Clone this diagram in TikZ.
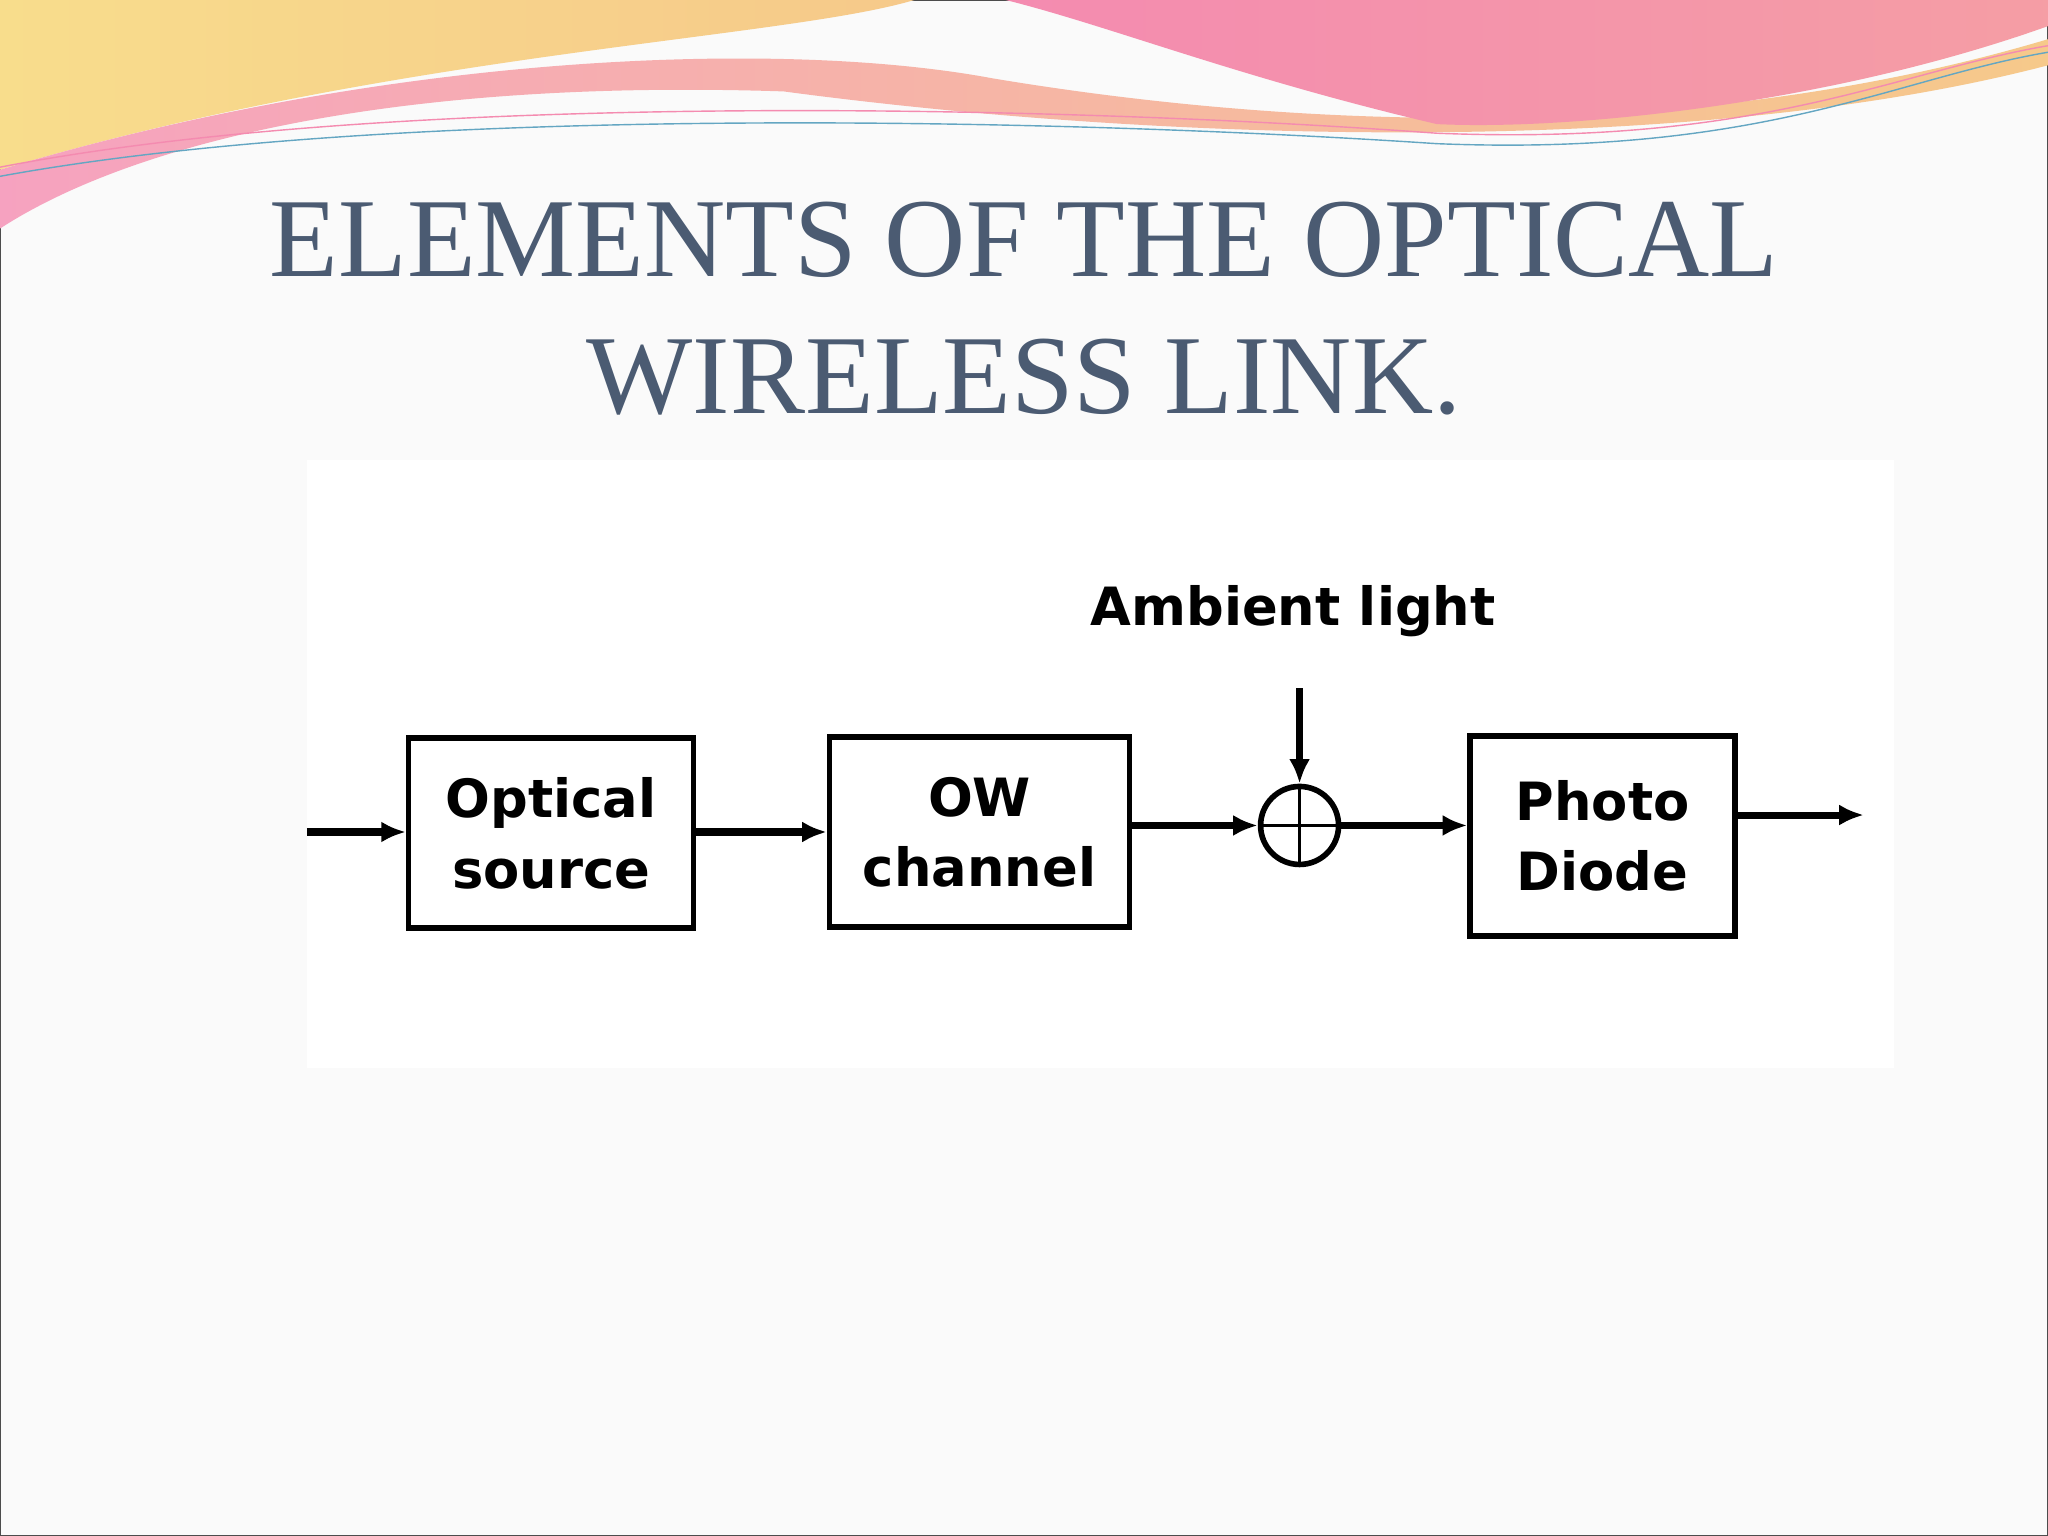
\documentclass[tikz,border=0pt]{standalone}
\usepackage{fontspec}
\setmainfont{Liberation Serif}
\setsansfont{DejaVu Sans}
\usetikzlibrary{positioning,arrows.meta,calc}
\definecolor{titlegray}{HTML}{4B5B72}
\definecolor{wavepink}{HTML}{F48BB0}
\definecolor{waveorange}{HTML}{F6C98A}
\definecolor{waveyellow}{HTML}{F8DD8C}
\tikzset{
  block/.style={draw, line width=1.6pt, minimum height=1.9cm, align=center,
    font=\sffamily\bfseries\fontsize{15}{20}\selectfont, inner sep=2pt},
  sig/.style={line width=2pt, -{Latex[length=7pt,width=6pt]}}
}
\begin{document}
\begin{tikzpicture}[x=0.013061cm,y=-0.013061cm]
  \useasboundingbox (0,0) rectangle (1568,1176);
  \fill[white!96!gray] (0,0) rectangle (1568,1176);
  \draw[gray!60!black, line width=0.8pt] (0,0) rectangle (1568,1176);
  % header waves
  \shade[left color=waveyellow, right color=waveorange]
    (0,0) -- (700,0) .. controls (600,30) and (300,40) .. (0,130) -- cycle;
  \shade[left color=wavepink!80, right color=waveorange]
    (0,130) .. controls (300,40) and (600,30) .. (760,60)
    .. controls (1000,100) and (1300,110) .. (1568,30) -- (1568,50)
    .. controls (1300,120) and (900,110) .. (600,70)
    .. controls (300,60) and (100,110) .. (0,175) -- cycle;
  \shade[left color=wavepink, right color=wavepink!70!waveorange]
    (770,0) -- (1568,0) -- (1568,20) .. controls (1400,80) and (1200,100) .. (1100,95)
    .. controls (950,60) and (850,20) .. (770,0) -- cycle;
  \draw[cyan!50!gray, thin] (0,135) .. controls (300,80) and (800,90) .. (1100,110)
    .. controls (1350,120) and (1450,60) .. (1568,40);
  \draw[wavepink, thin] (0,128) .. controls (300,70) and (800,80) .. (1100,102)
    .. controls (1350,112) and (1450,55) .. (1568,35);
  % title
  \node[text=titlegray, font=\fontsize{32}{39}\selectfont, align=center] (title) at (784,236)
    {ELEMENTS OF THE OPTICAL\\WIRELESS LINK.};
  % diagram panel
  \fill[white] (235,352) rectangle (1450,818);
  \node[block, minimum width=2.85cm] (src) at (422,638) {Optical\\source};
  \node[block, minimum width=3cm] (chan) at (750,637) {OW\\channel};
  \node[draw, circle, line width=1.6pt, minimum size=0.78cm, inner sep=0pt] (sum) at (995,632) {};
  \draw[line width=1pt] (sum.north) -- (sum.south) (sum.west) -- (sum.east);
  \node[block, minimum width=2.65cm, minimum height=2cm] (pd) at (1227,640) {Photo\\Diode};
  \node[font=\sffamily\bfseries\fontsize{15}{20}\selectfont] (amb) at (990,468) {Ambient light};
  \coordinate (in) at (235,637);
  \coordinate (out) at (1427,624);
  \coordinate (ambtop) at (995,527);
  \draw[sig] (in) -- (src.west|-in);
  \draw[sig] (src.east|-chan) -- (chan.west);
  \draw[sig] (chan.east|-sum) -- (sum.west);
  \draw[sig] (ambtop) -- (sum.north);
  \draw[sig] (sum.east) -- (pd.west|-sum);
  \draw[sig] (pd.east|-out) -- (out);
\end{tikzpicture}
\end{document}
